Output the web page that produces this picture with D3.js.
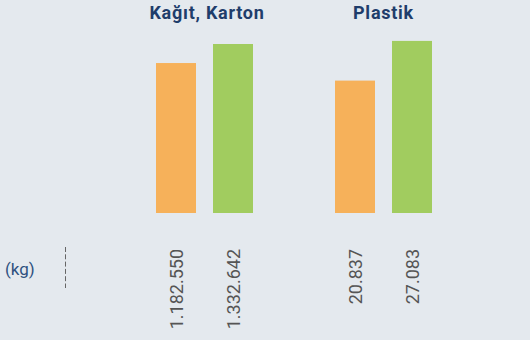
<!DOCTYPE html>
<html>
<head>
<meta charset="utf-8">
<script src="https://cdn.jsdelivr.net/npm/d3@7/dist/d3.min.js"></script>
<style>
  html, body { margin: 0; padding: 0; background: #e4e9ee; }
  svg { display: block; }
</style>
</head>
<body>
<script>
// Waste categories and their two yearly quantities (kg)
const categories = ["Kağıt, Karton", "Plastik"];
const series = ["önceki", "sonraki"];
const valuesPrev = [1182550, 20837];
const valuesNext = [1332642, 27083];
// Each category is drawn on its own vertical scale
const scaleMax = [1443000, 28800];
const seriesColors = ["#f6b15a", "#a1cc5f"];
const unitLabel = "(kg)";

const W = 530, H = 340;
const baseY = 213, topY = 30, labelY = 249;

const fmt = v => d3.format(",")(v).replace(/,/g, ".");

const svg = d3.select("body").append("svg")
  .attr("width", W).attr("height", H);

svg.append("rect").attr("width", W).attr("height", H).attr("fill", "#e4e9ee");

const x0 = d3.scaleBand().domain(categories).range([115, 473]);
const x1 = d3.scaleBand().domain(series).range([41, 138]).paddingInner(0.2982);
const color = d3.scaleOrdinal().domain(series).range(seriesColors);

const rows = categories.map((c, i) => ({
  category: c,
  y: d3.scaleLinear().domain([0, scaleMax[i]]).range([baseY, topY]),
  items: [
    { key: series[0], value: valuesPrev[i] },
    { key: series[1], value: valuesNext[i] }
  ]
}));

const groups = svg.selectAll("g.group").data(rows).join("g")
  .attr("class", "group")
  .attr("transform", d => `translate(${x0(d.category)},0)`);

// Category titles
groups.append("text")
  .attr("x", (d, i) => x0.bandwidth() / 2 + (i === 0 ? 2.5 : 0))
  .attr("y", 19)
  .attr("text-anchor", "middle")
  .attr("font-family", "Roboto, sans-serif")
  .attr("font-weight", "bold")
  .attr("font-size", 18)
  .attr("letter-spacing", "0.75px")
  .attr("fill", "#1f3d6b")
  .text(d => d.category);

// Bars
groups.each(function(d) {
  const g = d3.select(this);
  g.selectAll("rect.bar").data(d.items).join("rect")
    .attr("class", "bar")
    .attr("x", e => x1(e.key))
    .attr("width", x1.bandwidth())
    .attr("y", e => d.y(e.value))
    .attr("height", e => baseY - d.y(e.value))
    .attr("fill", e => color(e.key));

  // Rotated value labels under the bars
  g.selectAll("text.val").data(d.items).join("text")
    .attr("class", "val")
    .attr("transform", e => `translate(${x1(e.key) + x1.bandwidth() / 2 + 7},${labelY}) rotate(-90)`)
    .attr("text-anchor", "end")
    .attr("font-family", "Roboto, sans-serif")
    .attr("font-size", 18)
    .attr("fill", "#555555")
    .text(e => fmt(e.value));
});

// Unit label and dashed separator
svg.append("text")
  .attr("x", 5).attr("y", 275)
  .attr("font-family", "Roboto, sans-serif")
  .attr("font-size", 17)
  .attr("fill", "#2e5180")
  .text(unitLabel);

svg.append("line")
  .attr("x1", 65.5).attr("x2", 65.5)
  .attr("y1", 247).attr("y2", 288)
  .attr("stroke", "#666666")
  .attr("stroke-width", 1)
  .attr("stroke-dasharray", "5,2.3");
</script>
</body>
</html>
